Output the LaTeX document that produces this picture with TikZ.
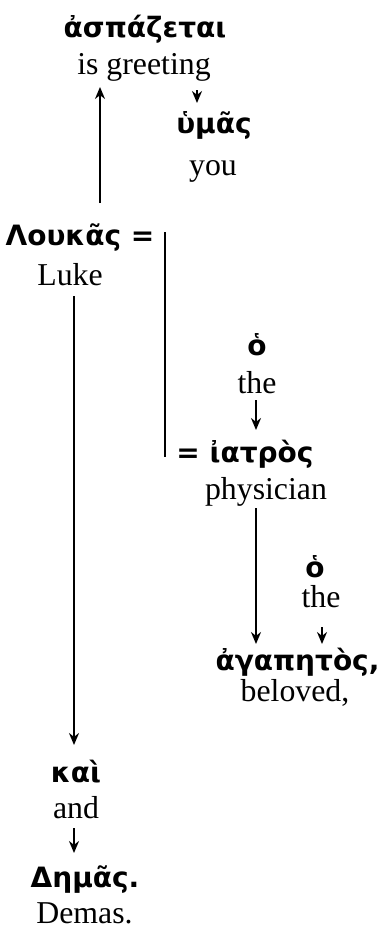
\documentclass[tikz,border=0pt]{standalone}
\usepackage{fontspec}
\setmainfont{Liberation Serif}
\newfontfamily\gkfamily{DejaVu Sans}[BoldFont={DejaVu Sans Bold}]
\usetikzlibrary{arrows.meta,calc}
\begin{document}
\begin{tikzpicture}[x=0.5pt,y=-0.5pt,
  gk/.style={font=\gkfamily\bfseries\fontsize{14}{16}\selectfont, inner sep=0pt, anchor=base},
  en/.style={font=\fontsize{15.9}{19}\selectfont, inner sep=0pt, anchor=base},
  arr/.style={line width=1pt, -{Stealth[length=6pt,width=5pt]}},
  ln/.style={line width=1pt}]
\useasboundingbox (0,0) rectangle (382,932);
\node[gk] (aspaz) at (145,37) {ἀσπάζεται};
\node[en] (greet) at (144,74) {is greeting};
\node[gk] (humas) at (214,133) {ὑμᾶς};
\node[en] (you) at (213,175) {you};
\node[gk] (lukas) at (80,245) {Λουκᾶς =};
\node[en] (luke) at (70,285) {Luke};
\node[gk] (ho1) at (257,355) {ὁ};
\node[en] (the1) at (257,393) {the};
\node[gk] (iatros) at (245,462) {= ἰατρὸς};
\node[en] (physician) at (266,499) {physician};
\node[gk] (ho2) at (315,577) {ὁ};
\node[en] (the2) at (321,607) {the};
\node[gk] (agapetos) at (297.5,670) {ἀγαπητὸς,};
\node[en] (beloved) at (295,701) {beloved,};
\node[gk] (kai) at (76,782) {καὶ};
\node[en] (and) at (76,818) {and};
\node[gk] (demasgk) at (85,887) {Δημᾶς.};
\node[en] (demas) at (84.5,923) {Demas.};
% connectors
\draw[arr] ($(lukas.base)+(20,-42)$) -- ($(greet.base)+(-44,13)$);
\draw[arr] ($(greet.base)+(53,16)$) -- ($(humas.base)+(-17,-30)$);
\draw[ln] ($(lukas.base)+(85,-13)$) -- ($(iatros.base)+(-80,-5)$);
\draw[arr] ($(luke.base)+(4,11)$) -- ($(kai.base)+(-2,-37)$);
\draw[arr] ($(the1.base)+(-1,7)$) -- ($(iatros.base)+(11,-32)$);
\draw[arr] ($(physician.base)+(-10,9)$) -- ($(agapetos.base)+(-41.5,-26)$);
\draw[arr] ($(the2.base)+(1,20)$) -- ($(agapetos.base)+(24.5,-26)$);
\draw[arr] ($(and.base)+(-2,10)$) -- ($(demasgk.base)+(-11,-34)$);
\end{tikzpicture}
\end{document}
